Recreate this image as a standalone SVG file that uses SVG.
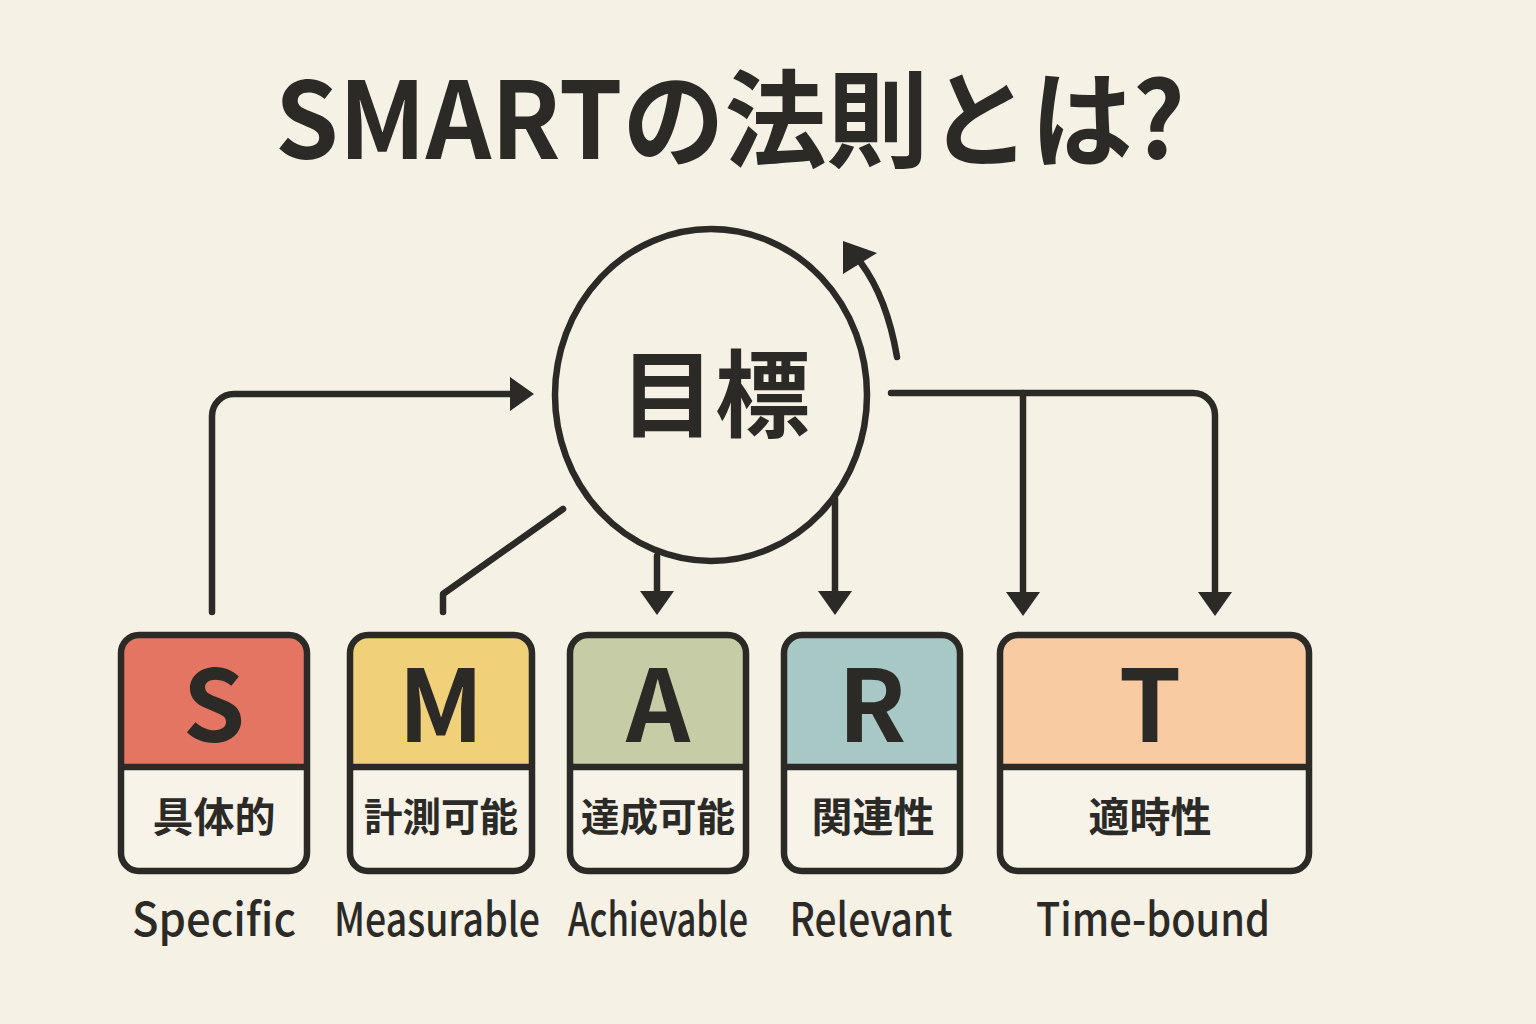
<svg xmlns="http://www.w3.org/2000/svg" width="1536" height="1024" viewBox="0 0 1536 1024">
<style>
.ln{fill:none;stroke:#2b2a27;stroke-width:6.5;stroke-linecap:round;stroke-linejoin:round}
.ol{fill:none;stroke:#2b2a27;stroke-width:6.5}
.bot{fill:#f7f3e8}
.big{font-family:"Noto Sans CJK JP","Noto Sans",sans-serif;font-weight:700;fill:#2b2a27;text-anchor:middle}
.jp{font-family:"Noto Sans CJK JP",sans-serif;font-weight:700;font-size:41px;fill:#2b2a27;text-anchor:middle}
.jp4{font-size:38.5px}
.en{font-family:"Noto Sans CJK JP","Noto Sans",sans-serif;font-weight:500;font-size:46px;fill:#2b2a27;text-anchor:middle}
.ah{fill:#2b2a27}
</style>
<defs>
<marker id="arr" markerUnits="userSpaceOnUse" markerWidth="24" markerHeight="34" viewBox="0 0 24 34" refX="12" refY="17" orient="auto">
<path d="M0,0 L24,17 L0,34 Z" fill="#2b2a27"/>
</marker>
</defs>
<rect width="1536" height="1024" fill="#f6f1e5"/>
<text class="big" x="730" y="159" font-size="106" textLength="910" lengthAdjust="spacingAndGlyphs">SMARTの法則とは?</text>

<g id="goal">
<ellipse cx="711" cy="395" rx="156" ry="166" fill="none" stroke="#2b2a27" stroke-width="6.5"/>
<text class="big" x="715" y="430" font-size="95">目標</text>
</g>

<g id="connectors">
<path class="ln" d="M212,612 V416 A22,22 0 0 1 234,394 H522" marker-end="url(#arr)"/>
<path class="ln" d="M443,612 V594 L563,509"/>
<path class="ln" d="M657,556 V603" marker-end="url(#arr)"/>
<path class="ln" d="M835,499 V603" marker-end="url(#arr)"/>
<path class="ln" d="M891,393 H1193 A22,22 0 0 1 1215,415 V604" marker-end="url(#arr)"/>
<path class="ln" d="M1023,393 V604" marker-end="url(#arr)"/>
<path class="ln" d="M897,357 Q887,298 861,263"/>
<polygon class="ah" points="843,241 843,274 877,253"/>
</g>

<g id="node-s">
<rect class="bot" x="121" y="635" width="186" height="236" rx="18"/>
<path d="M121,767 V653 A18,18 0 0 1 139,635 H289 A18,18 0 0 1 307,653 V767 Z" fill="#e47563"/>
<line class="ol" x1="121" y1="767" x2="307" y2="767"/>
<rect class="ol" x="121" y="635" width="186" height="236" rx="18"/>
<text class="big" x="214" y="742" font-size="100">S</text>
<text class="jp" x="214" y="832">具体的</text>
<text class="en" x="214" y="936" textLength="164" lengthAdjust="spacingAndGlyphs">Specific</text>
</g>

<g id="node-m">
<rect class="bot" x="350" y="635" width="182" height="236" rx="18"/>
<path d="M350,767 V653 A18,18 0 0 1 368,635 H514 A18,18 0 0 1 532,653 V767 Z" fill="#f0d078"/>
<line class="ol" x1="350" y1="767" x2="532" y2="767"/>
<rect class="ol" x="350" y="635" width="182" height="236" rx="18"/>
<text class="big" x="441" y="742" font-size="100">M</text>
<text class="jp jp4" x="441" y="831">計測可能</text>
<text class="en" x="437" y="936" textLength="206" lengthAdjust="spacingAndGlyphs">Measurable</text>
</g>

<g id="node-a">
<rect class="bot" x="570" y="635" width="176" height="236" rx="18"/>
<path d="M570,767 V653 A18,18 0 0 1 588,635 H728 A18,18 0 0 1 746,653 V767 Z" fill="#c5cca6"/>
<line class="ol" x1="570" y1="767" x2="746" y2="767"/>
<rect class="ol" x="570" y="635" width="176" height="236" rx="18"/>
<text class="big" x="658" y="742" font-size="100">A</text>
<text class="jp jp4" x="658" y="831">達成可能</text>
<text class="en" x="658" y="936" textLength="180" lengthAdjust="spacingAndGlyphs">Achievable</text>
</g>

<g id="node-r">
<rect class="bot" x="784" y="635" width="176" height="236" rx="18"/>
<path d="M784,767 V653 A18,18 0 0 1 802,635 H942 A18,18 0 0 1 960,653 V767 Z" fill="#a8c8c6"/>
<line class="ol" x1="784" y1="767" x2="960" y2="767"/>
<rect class="ol" x="784" y="635" width="176" height="236" rx="18"/>
<text class="big" x="872" y="742" font-size="100">R</text>
<text class="jp" x="873" y="832">関連性</text>
<text class="en" x="871" y="936" textLength="163" lengthAdjust="spacingAndGlyphs">Relevant</text>
</g>

<g id="node-t">
<rect class="bot" x="1000" y="635" width="309" height="236" rx="18"/>
<path d="M1000,767 V653 A18,18 0 0 1 1018,635 H1291 A18,18 0 0 1 1309,653 V767 Z" fill="#f8cba2"/>
<line class="ol" x1="1000" y1="767" x2="1309" y2="767"/>
<rect class="ol" x="1000" y="635" width="309" height="236" rx="18"/>
<text class="big" x="1150" y="742" font-size="100">T</text>
<text class="jp" x="1150" y="832">適時性</text>
<text class="en" x="1153" y="936" textLength="234" lengthAdjust="spacingAndGlyphs">Time-bound</text>
</g>
</svg>
